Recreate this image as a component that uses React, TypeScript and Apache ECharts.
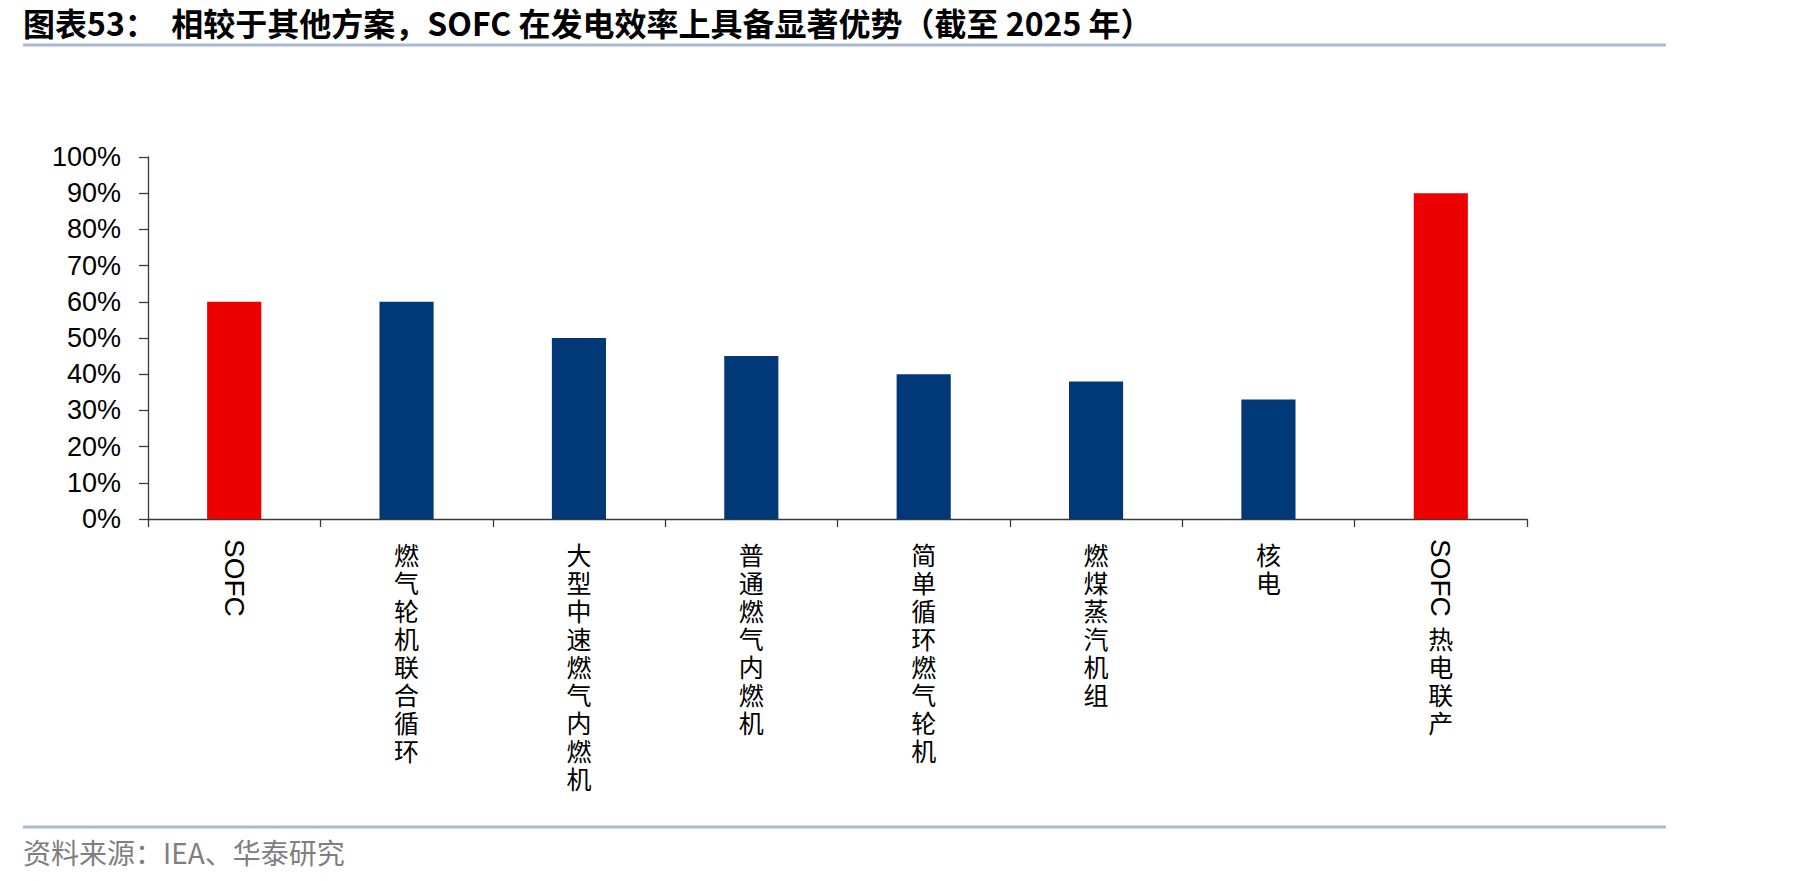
import React, { useEffect, useRef } from "react";
import * as echarts from "echarts";

const categories: string[] = [
  "SOFC",
  "燃气轮机联合循环",
  "大型中速燃气内燃机",
  "普通燃气内燃机",
  "简单循环燃气轮机",
  "燃煤蒸汽机组",
  "核电",
  "SOFC 热电联产",
];
const efficiency: number[] = [60, 60, 50, 45, 40, 38, 33, 90];
const yTicks = { min: 0, max: 100, interval: 10 };

const TITLE = "图表53：  相较于其他方案，SOFC 在发电效率上具备显著优势（截至 2025 年）";
const SOURCE = "资料来源：IEA、华泰研究";

const RED = "#EE0000";
const BLUE = "#003878";
const RULE = "#A8BAD3";

export default function App() {
  const ref = useRef<HTMLDivElement>(null);
  useEffect(() => {
    if (!ref.current) return;
    const chart = echarts.init(ref.current, null, { renderer: "svg" });
    const cjkPart = (v: string) => {
      if (v.startsWith("SOFC")) {
        const rest = v.slice(4).trim();
        if (!rest) return "";
        return "\n\n\n" + rest.split("").join("\n");
      }
      return v.split("").join("\n");
    };
    chart.setOption({
      animation: false,
      backgroundColor: "#ffffff",
      grid: { left: 148, right: 292, top: 157, bottom: 362, containLabel: false },
      xAxis: [
        {
          type: "category",
          data: categories,
          position: "bottom",
          axisLine: { show: true, lineStyle: { color: "#3a3a3a", width: 1.3 } },
          axisTick: { show: true, length: 8, lineStyle: { color: "#3a3a3a", width: 1.3 } },
          axisLabel: {
            interval: 0,
            margin: 21,
            color: "#000",
            fontFamily: "Noto Sans CJK SC",
            fontSize: 25,
            lineHeight: 28,
            verticalAlign: "top",
            formatter: (v: string) => cjkPart(v),
          },
        },
        {
          type: "category",
          data: categories,
          position: "bottom",
          axisLine: { show: false },
          axisTick: { show: false },
          axisLabel: {
            interval: 0,
            rotate: -90,
            margin: 20,
            color: "#000",
            fontFamily: "Liberation Sans, Arial",
            fontSize: 28,
            formatter: (v: string) => (v.startsWith("SOFC") ? "SOFC" : ""),
          },
        },
      ],
      yAxis: {
        type: "value",
        min: yTicks.min,
        max: yTicks.max,
        interval: yTicks.interval,
        splitLine: { show: false },
        axisLine: { show: true, lineStyle: { color: "#3a3a3a", width: 1.3 } },
        axisTick: { show: true, length: 9, lineStyle: { color: "#3a3a3a", width: 1.3 } },
        axisLabel: {
          margin: 27,
          color: "#000",
          fontFamily: "Liberation Sans, Arial",
          fontSize: 27,
          formatter: "{value}%",
        },
      },
      series: [
        {
          type: "bar",
          xAxisIndex: 0,
          data: efficiency,
          barWidth: "31.4%",
          itemStyle: {
            color: (p: any) => (String(p.name).startsWith("SOFC") ? RED : BLUE),
          },
        },
      ],
      graphic: [
        {
          type: "text",
          left: 23,
          top: 6,
          style: {
            text: TITLE,
            fontFamily: "Noto Sans CJK SC",
            fontWeight: "bold",
            fontSize: 32,
            fill: "#000",
          },
        },
        {
          type: "line",
          shape: { x1: 23, y1: 45, x2: 1666, y2: 45 },
          style: { stroke: RULE, lineWidth: 3 },
        },
        {
          type: "line",
          shape: { x1: 23, y1: 827, x2: 1666, y2: 827 },
          style: { stroke: RULE, lineWidth: 3 },
        },
        {
          type: "text",
          left: 23,
          top: 838,
          style: {
            text: SOURCE,
            fontFamily: "Noto Sans CJK SC",
            fontSize: 28,
            fill: "#7f7f7f",
          },
        },
      ],
    });
    return () => chart.dispose();
  }, []);
  return (
    <div
      ref={ref}
      style={{ position: "fixed", left: 0, top: 0, width: 1819, height: 881, background: "#fff" }}
    />
  );
}
